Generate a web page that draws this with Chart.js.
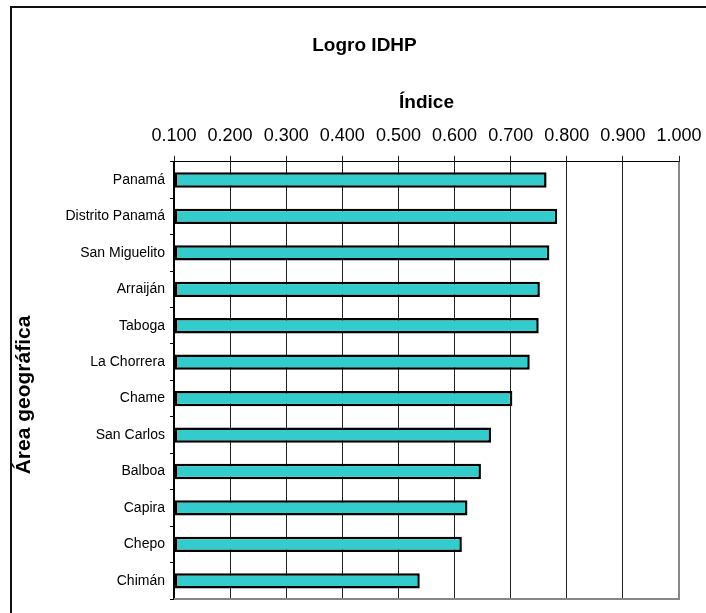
<!DOCTYPE html>
<html>
<head>
<meta charset="utf-8">
<title>Logro IDHP</title>
<script src="https://cdn.jsdelivr.net/npm/chart.js@4.4.1/dist/chart.umd.min.js"></script>
<style>
    html, body { margin: 0; padding: 0; background: #fff; overflow: hidden; }
    canvas { display: block; }
</style>
</head>
<body>
<canvas id="idhpChart" width="706" height="613"></canvas>
<script>
const areas = ['Panamá', 'Distrito Panamá', 'San Miguelito', 'Arraiján', 'Taboga', 'La Chorrera',
    'Chame', 'San Carlos', 'Balboa', 'Capira', 'Chepo', 'Chimán'];
const logroValues = [0.764, 0.783, 0.769, 0.752, 0.750, 0.734, 0.703, 0.665, 0.647, 0.623, 0.613, 0.538];
const indexTicks = [0.1, 0.2, 0.3, 0.4, 0.5, 0.6, 0.7, 0.8, 0.9, 1.0];

const chartTitle = 'Logro IDHP';
const xTitle = 'Índice';
const yTitle = 'Área geográfica';

document.addEventListener('DOMContentLoaded', function() {
    const ctx = document.getElementById('idhpChart').getContext('2d');
    const fontFamily = '"Liberation Sans", Arial, sans-serif';

    // outer frame, white background and the y title
    const framePlugin = {
        id: 'frame',
        beforeDraw(chart) {
            const c = chart.ctx;
            c.save();
            c.fillStyle = '#fff';
            c.fillRect(0, 0, chart.width, chart.height);
            c.strokeStyle = '#111';
            c.lineWidth = 2;
            c.strokeRect(11, 7, 800, 800);
            c.restore();
        },
        afterDraw(chart) {
            const c = chart.ctx;
            const area = chart.chartArea;
            c.save();
            // grey right / bottom edge of the plot area
            c.strokeStyle = '#888';
            c.lineWidth = 2;
            c.beginPath();
            c.moveTo(area.left, area.bottom);
            c.lineTo(area.right, area.bottom);
            c.lineTo(area.right, area.top);
            c.stroke();
            // rotated axis title
            c.translate(24, 395);
            c.rotate(-Math.PI / 2);
            c.fillStyle = '#000';
            c.font = 'bold 21px ' + fontFamily;
            c.textAlign = 'center';
            c.textBaseline = 'middle';
            c.fillText(yTitle, 0, 0);
            c.restore();
        }
    };

    new Chart(ctx, {
        type: 'bar',
        data: {
            labels: areas,
            datasets: [{
                label: chartTitle,
                data: logroValues,
                base: indexTicks[0],
                backgroundColor: '#33CCCC',
                borderColor: '#000',
                borderWidth: 2.5,
                borderSkipped: false,
                categoryPercentage: 1,
                barPercentage: 0.42
            }]
        },
        options: {
            indexAxis: 'y',
            responsive: false,
            animation: false,
            layout: {
                padding: { left: 50, right: 27, top: 0, bottom: 14 }
            },
            plugins: {
                legend: { display: false },
                tooltip: { enabled: false },
                title: {
                    display: true,
                    text: chartTitle,
                    color: '#000',
                    font: { family: fontFamily, size: 19, weight: 'bold' },
                    padding: { top: 34, bottom: 28 }
                }
            },
            scales: {
                x: {
                    position: 'top',
                    min: indexTicks[0],
                    max: indexTicks[indexTicks.length - 1],
                    afterBuildTicks: function(scale) {
                        scale.ticks = indexTicks.map(v => ({ value: v }));
                    },
                    afterFit: function(scale) {
                        scale.height = 77;
                        scale.paddingLeft = 0;
                        scale.paddingRight = 0;
                    },
                    ticks: {
                        color: '#000',
                        font: { family: fontFamily, size: 18 },
                        padding: 9,
                        maxRotation: 0,
                        autoSkip: false,
                        callback: v => Number(v).toFixed(3)
                    },
                    title: {
                        display: true,
                        text: xTitle,
                        color: '#000',
                        font: { family: fontFamily, size: 19, weight: 'bold' },
                        padding: { top: 7, bottom: 0 }
                    },
                    grid: {
                        color: ctx => ctx.tick && ctx.tick.value >= 1 ? '#888' : '#222',
                        lineWidth: 1,
                        tickLength: 6,
                        tickColor: '#222'
                    },
                    border: { color: '#000', width: 1 }
                },
                y: {
                    afterFit: function(scale) {
                        scale.width = 124;
                    },
                    ticks: {
                        color: '#000',
                        font: { family: fontFamily, size: 14 },
                        padding: 5
                    },
                    grid: {
                        drawOnChartArea: false,
                        tickLength: 4,
                        color: '#000'
                    },
                    border: { color: '#000', width: 2 }
                }
            }
        },
        plugins: [framePlugin]
    });
});
</script>
</body>
</html>
